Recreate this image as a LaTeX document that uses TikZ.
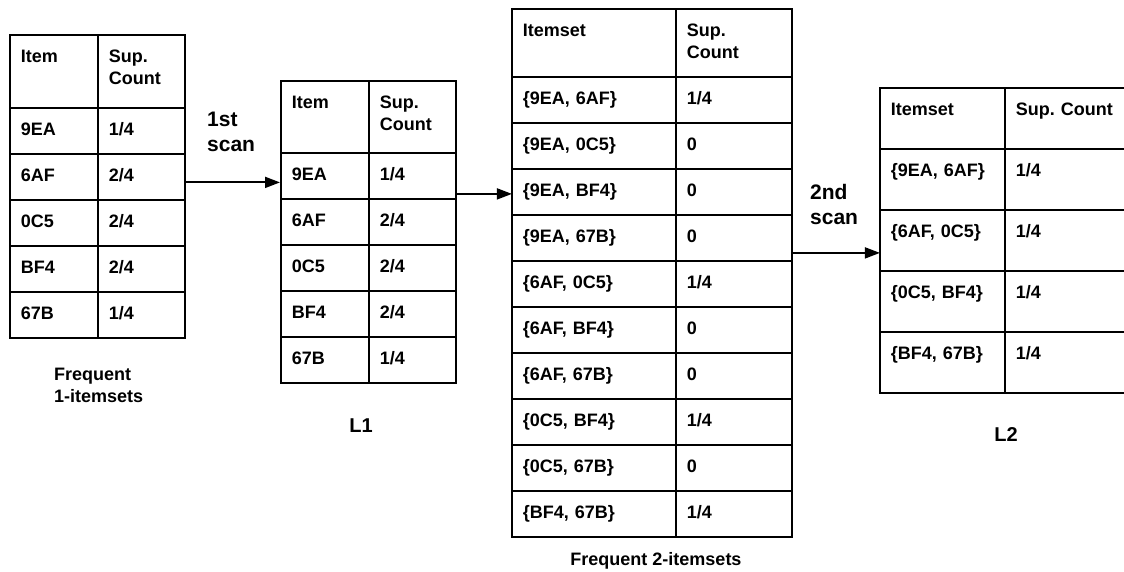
\documentclass[tikz,border=0pt]{standalone}
\usepackage{fontspec}
\setmainfont{Liberation Sans}
\usetikzlibrary{matrix,arrows.meta}
\frenchspacing

\tikzset{
  cell/.style={draw, line width=1.8pt, outer sep=0pt, inner xsep=11pt,
    inner ysep=0pt, align=left, text height=28pt, text depth=18pt,
    font=\fontsize{18}{22}\selectfont\bfseries},
  itemtable/.style={matrix of nodes, anchor=north west, inner sep=0pt,
    outer sep=0pt, row sep=-1.8pt, column sep=-1.8pt, nodes={cell}},
  colwidths/.style 2 args={column 1/.style={nodes={text width=#1}},
    column 2/.style={nodes={text width=#2}}},
  scanarrow/.style={line width=1.8pt, -{Triangle[length=15pt,width=11pt]}},
  caption/.style={inner sep=0pt, font=\fontsize{18}{22}\selectfont\bfseries},
  steplabel/.style={inner sep=0pt, align=left, anchor=north west,
    font=\fontsize{21}{25}\selectfont\bfseries}
}

\begin{document}
\begin{tikzpicture}[x=1pt, y=1pt]
  \useasboundingbox (0,0) rectangle (1124,-572);
  \clip (0,0) rectangle (1124,-572);

  % candidate 1-itemsets
  \matrix (t1) [itemtable, colwidths={66pt}{65pt},
    row 1/.style={nodes={text depth=45pt}}] at (9,-34) {
    Item & Sup.\newline Count \\
    9EA  & 1/4 \\
    6AF  & 2/4 \\
    0C5  & 2/4 \\
    BF4  & 2/4 \\
    67B  & 1/4 \\
  };

  % L1
  \matrix (t2) [itemtable, colwidths={66pt}{65pt},
    row 1/.style={nodes={text depth=44pt}}] at (280,-80) {
    Item & Sup.\newline Count \\
    9EA  & 1/4 \\
    6AF  & 2/4 \\
    0C5  & 2/4 \\
    BF4  & 2/4 \\
    67B  & 1/4 \\
  };

  % candidate 2-itemsets
  \matrix (t3) [itemtable, colwidths={142pt}{94pt},
    row 1/.style={nodes={text depth=40pt}}] at (511,-8) {
    Itemset        & Sup.\newline Count \\
    \{9EA, 6AF\}   & 1/4 \\
    \{9EA, 0C5\}   & 0 \\
    \{9EA, BF4\}   & 0 \\
    \{9EA, 67B\}   & 0 \\
    \{6AF, 0C5\}   & 1/4 \\
    \{6AF, BF4\}   & 0 \\
    \{6AF, 67B\}   & 0 \\
    \{0C5, BF4\}   & 1/4 \\
    \{0C5, 67B\}   & 0 \\
    \{BF4, 67B\}   & 1/4 \\
  };

  % L2 (runs off the right edge)
  \matrix (t4) [itemtable, colwidths={103pt}{108pt},
    nodes={text depth=33pt}] at (879,-87) {
    Itemset        & Sup. Count \\
    \{9EA, 6AF\}   & 1/4 \\
    \{6AF, 0C5\}   & 1/4 \\
    \{0C5, BF4\}   & 1/4 \\
    \{BF4, 67B\}   & 1/4 \\
  };

  % scans
  \coordinate (s1) at ([yshift=-5.5pt]t1-3-2.east);
  \draw[scanarrow] (s1) -- (s1 -| t2.west);
  \coordinate (s2) at ([yshift=-2pt]t3-4-1.west);
  \draw[scanarrow] (s2 -| t2.east) -- (s2);
  \coordinate (s3) at ([yshift=-12.5pt]t4-3-1.west);
  \draw[scanarrow] (s3 -| t3.east) -- (s3);

  \node (scan1) [steplabel] at (207,-112) {1st\\scan};
  \node (scan2) [steplabel] at (810,-184) {2nd\\scan};

  % captions
  \node (cap1) [caption, align=left, anchor=north west] at (54,-368)
    {Frequent\\1-itemsets};
  \node (capL1) [caption, anchor=base, font=\fontsize{20}{24}\selectfont\bfseries]
    at (361,-432) {L1};
  \node (cap2) [caption, anchor=base] at (656,-565) {Frequent 2-itemsets};
  \node (capL2) [caption, anchor=base, font=\fontsize{20}{24}\selectfont\bfseries]
    at (1006,-441) {L2};
\end{tikzpicture}
\end{document}
